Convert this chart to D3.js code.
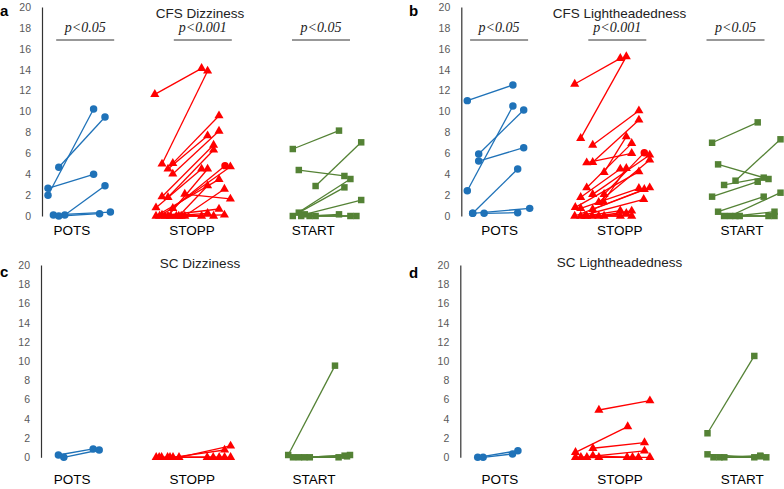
<!DOCTYPE html>
<html>
<head>
<meta charset="utf-8">
<script src="https://cdn.jsdelivr.net/npm/d3@7"></script>
<style>
  html, body { margin: 0; padding: 0; background: #fff; }
  svg { display: block; }
</style>
</head>
<body>
<script>
// ---------------- DATA ----------------
const groups = ["POTS", "STOPP", "START"];
const yTicks = [0, 2, 4, 6, 8, 10, 12, 14, 16, 18, 20];
const panelTitles = ["CFS Dizziness", "CFS Lightheadedness", "SC Dizziness", "SC Lightheadedness"];
const panelLetters = ["a", "b", "c", "d"];
const pValues = [["p<0.05", "p<0.001", "p<0.05"], ["p<0.05", "p<0.001", "p<0.05"], [], []];

// each pair: [x before (jitter), value before, x after (jitter), value after]
const cfsDizzPOTS = [[0.5,1.98,4.3,10.24],[0.5,2.65,4.3,3.99],[1.4,4.66,5.25,9.47],[1.9,0.1,5.25,2.9],[0.95,0.1,5.7,0.38],[1.4,0,4.8,0.22]];
const cfsDizzSTOPP = [[9.4,11.64,13.3,14.13],[10.0,4.98,13.8,13.88],[10.9,5.04,14.75,9.6],[10.5,4.5,13.8,7.69],[10.9,4.02,14.75,8.13],
  [10.0,1.85,14.3,6.79],[10.5,1.79,14.3,6.32],[9.5,0.8,13.3,4.5],[10.9,0.73,15.25,4.82],[10.0,0.1,15.7,4.72],
  [9.5,0,14.75,3.51],[10.5,0,13.8,4.5],[11.4,0,13.8,2.9],[11.9,0,15.2,2.58],[11.9,2.1,15.7,1.63],
  [9.8,0,14.75,0.67],[10.25,0,13.3,0],[10.7,0,13.8,0.26],[11.2,0,14.3,0],[11.6,0,15.2,0.1]];
const cfsDizzSTART = [[20.9,6.41,24.75,8.17],[21.4,4.4,25.2,3.83],[22.8,2.87,26.6,7.05],[20.9,0,25.7,3.54],[21.4,0.32,25.2,2.74],
  [21.9,0.16,26.6,1.53],[22.3,0,24.75,0.16],[22.8,0,25.7,0],[21.6,0,26.2,0]];

const cfsLightPOTS = [[0.5,11.04,4.3,12.54],[0.5,2.42,4.3,10.53],[1.45,5.93,5.2,10.14],[1.45,5.26,5.2,6.54],[0.95,0.26,4.7,4.5],[0.95,0.26,5.7,0.73],[1.9,0.26,4.7,0.32]];
const cfsLightSTOPP = [[9.45,12.63,13.25,15.09],[9.95,7.43,13.75,15.25],[10.95,6.79,14.8,10.08],[10.95,5.14,14.8,9.19],[10.45,5.1,14.2,6.0],
  [11.9,4.18,13.75,7.59],[10.45,2.71,14.2,6.95],[10.95,2.07,15.7,5.84],[11.9,2.07,15.25,6.06],[9.95,1.79,13.25,4.5],
  [11.45,1.31,15.7,5.36],[11.85,1.37,13.75,4.56],[9.5,0.83,14.8,4.24],[9.95,0.73,14.8,2.65],[10.95,0.64,15.7,2.71],
  [9.45,0,15.25,2.55],[9.95,0,15.2,1.59],[10.45,0,13.25,0.51],[11.45,0,14.2,0.48],[11.9,0,13.75,0.26],[10.9,0,13.25,0],[10.3,0,14.2,0]];
const cfsLightSTART = [[20.9,7.01,24.7,8.96],[21.4,4.94,25.6,3.54],[22.85,3.38,26.6,7.34],[21.9,2.97,25.2,3.67],[20.9,1.85,24.7,3.28],
  [21.4,0.41,25.2,1.85],[22.4,0,26.6,2.23],[21.9,0,25.6,0],[22.85,0,26.1,0.41],[23.2,0,26.1,0]];

const scDizzPOTS = [[1.45,0.24,4.35,0.87],[1.9,0,4.85,0.76]];
const scDizzSTOPP = [[11.5,0,15.8,1.18],[11.0,0,15.3,0.76],[9.6,0,13.85,0],[10.05,0,14.35,0],[10.55,0,14.85,0],[9.85,0,15.3,0],[10.75,0,15.8,0]];
const scDizzSTART = [[20.6,0.24,24.5,9.53],[21.0,0,24.8,0],[21.5,0,25.3,0.17],[21.95,0,25.75,0.24],[22.4,0,25.5,0.1]];

const scLightPOTS = [[1.45,0,4.8,0.69],[1.9,0,4.35,0.35]];
const scLightSTOPP = [[11.55,4.92,15.8,5.89],[9.6,0.52,13.95,3.19],[11.05,0.94,15.35,1.53],[10.05,0,15.35,0.66],[11.05,0.17,13.9,0],
  [10.55,0,14.35,0],[9.6,0,14.85,0],[11.55,0,15.8,0]];
const scLightSTART = [[20.6,2.5,24.5,10.54],[20.6,0.31,24.5,0],[21.1,0,25.0,0.17],[21.6,0,25.5,0],[22.0,0,25.0,0.1]];

// index of the STOPP pair whose "after" marker is drawn as a circle
const stoppCircleAfter = [8, 8, -1, -1];

const panelData = [
  [cfsDizzPOTS, cfsDizzSTOPP, cfsDizzSTART],
  [cfsLightPOTS, cfsLightSTOPP, cfsLightSTART],
  [scDizzPOTS, scDizzSTOPP, scDizzSTART],
  [scLightPOTS, scLightSTOPP, scLightSTART]
];

// ---------------- LAYOUT / STYLE ----------------
const W = 784, H = 489;
const colors = ["#1f72b8", "#ff0000", "#548235"];
const symbols = [d3.symbolCircle, d3.symbolTriangle, d3.symbolSquare];
const symSizes = [44, 36, 42];

const layout = [
  {axisX: 42,    y0: 216,   y20: 7,   titleX: 200,   titleY: 18,  letterX: 0,   letterY: 16,  catX: [2.5, 12.5, 22.6], catY: 235, pX: [3.6, 13.4, 23.25], pTextY: 32, pLineY: 40},
  {axisX: 461.3, y0: 216,   y20: 7,   titleX: 619.5, titleY: 18,  letterX: 409, letterY: 16,  catX: [3.2, 13.2, 23.4], catY: 235, pX: [3.15, 13.0, 22.85], pTextY: 32, pLineY: 40},
  {axisX: 41,    y0: 457.3, y20: 265, titleX: 200,   titleY: 268, letterX: 0,   letterY: 277, catX: [2.6, 12.6, 22.75], catY: 484},
  {axisX: 460.3, y0: 457.3, y20: 265, titleX: 619.5, titleY: 267, letterX: 409, letterY: 278, catX: [3.3, 13.3, 23.5], catY: 484}
];

const svg = d3.select("body").append("svg").attr("width", W).attr("height", H);

layout.forEach((L, pi) => {
  const g = svg.append("g");
  const x = d3.scaleLinear().domain([0, 30]).range([L.axisX, L.axisX + 360]);
  const y = d3.scaleLinear().domain([0, 20]).range([L.y0, L.y20]);

  // y axis
  const ax = g.append("g").attr("transform", `translate(${L.axisX},0)`)
    .call(d3.axisLeft(y).tickValues(yTicks).tickSize(0).tickSizeOuter(0).tickPadding(11));
  ax.select(".domain").attr("stroke", "#333").attr("stroke-width", 1.2);
  ax.selectAll("text").attr("font-family", "Liberation Sans, Arial, sans-serif")
    .attr("font-size", 10.5).attr("fill", "#595959");

  // panel letter
  g.append("text").attr("x", L.letterX).attr("y", L.letterY)
    .attr("font-family", "Liberation Sans, Arial, sans-serif").attr("font-weight", "bold")
    .attr("font-size", 15).attr("fill", "#000").text(panelLetters[pi]);

  // title
  g.append("text").attr("x", L.titleX).attr("y", L.titleY).attr("text-anchor", "middle")
    .attr("font-family", "Liberation Sans, Arial, sans-serif").attr("font-size", 13.5)
    .attr("fill", "#222").text(panelTitles[pi]);

  // category labels
  groups.forEach((name, gi) => {
    g.append("text").attr("x", x(L.catX[gi])).attr("y", L.catY).attr("text-anchor", "middle")
      .attr("font-family", "Liberation Sans, Arial, sans-serif").attr("font-size", 13.5)
      .attr("fill", "#000").text(name);
  });

  // p-values
  pValues[pi].forEach((pv, gi) => {
    const cx = x(L.pX[gi]);
    g.append("text").attr("x", cx).attr("y", L.pTextY).attr("text-anchor", "middle")
      .attr("font-family", "Liberation Serif, Times New Roman, serif").attr("font-style", "italic")
      .attr("font-size", 14).attr("fill", "#222").text(pv);
    g.append("line").attr("x1", cx - 29).attr("x2", cx + 29)
      .attr("y1", L.pLineY).attr("y2", L.pLineY).attr("stroke", "#333").attr("stroke-width", 1);
  });

  // series
  panelData[pi].forEach((pairs, gi) => {
    const sg = g.append("g");
    sg.selectAll("line.pair").data(pairs).join("line").attr("class", "pair")
      .attr("x1", d => x(d[0])).attr("y1", d => y(d[1]))
      .attr("x2", d => x(d[2])).attr("y2", d => y(d[3]))
      .attr("stroke", colors[gi]).attr("stroke-width", 1.3);
    const pts = [];
    pairs.forEach((d, i) => {
      pts.push({x: d[0], v: d[1], circle: false});
      pts.push({x: d[2], v: d[3], circle: gi === 1 && i === stoppCircleAfter[pi]});
    });
    sg.selectAll("path.mk").data(pts).join("path").attr("class", "mk")
      .attr("transform", d => `translate(${x(d.x)},${y(d.v)})`)
      .attr("d", d => d3.symbol().type(d.circle ? d3.symbolCircle : symbols[gi]).size(d.circle ? symSizes[0] : symSizes[gi])())
      .attr("fill", colors[gi]);
  });
});
</script>
</body>
</html>
